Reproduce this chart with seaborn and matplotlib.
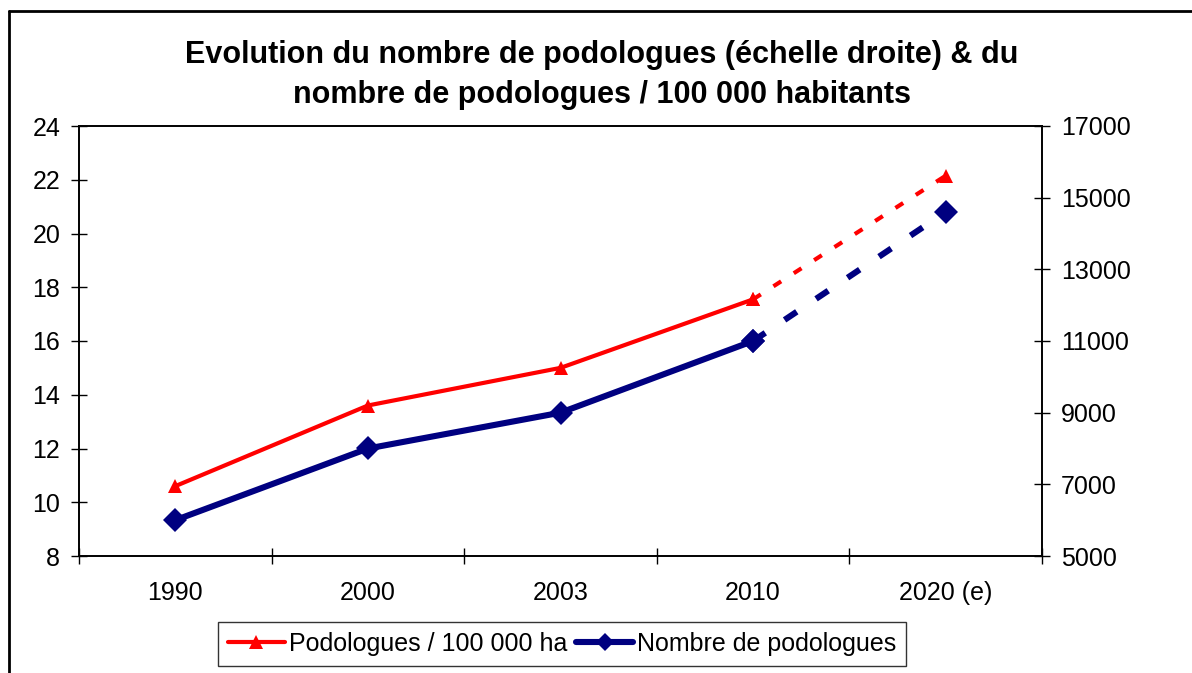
import numpy as np
import pandas as pd
import matplotlib
matplotlib.use('Agg')
import matplotlib.pyplot as plt
import seaborn as sns
from matplotlib.lines import Line2D
from matplotlib.ticker import FixedLocator

# Data
years = ["1990", "2000", "2003", "2010", "2020 (e)"]
per_100k = [10.6, 13.6, 15.0, 17.55, 22.15]          # left axis
nb_podologues = [6000, 8000, 9000, 11000, 14600]     # right axis
n_actual = 4  # last point is an estimate -> dashed segment

RED = "#FF0000"
NAVY = "#000080"

sns.set_style("white")
plt.rcParams['font.family'] = ['Liberation Sans', 'DejaVu Sans']
plt.rcParams['text.color'] = 'black'
plt.rcParams['xtick.color'] = 'black'
plt.rcParams['ytick.color'] = 'black'
plt.rcParams['axes.labelcolor'] = 'black'

pos = np.arange(len(years))
df = pd.DataFrame({"pos": pos, "ratio": per_100k, "nombre": nb_podologues})
solid = df.iloc[:n_actual]
dashed = df.iloc[n_actual - 1:]

fig = plt.figure(figsize=(11.92, 6.73), dpi=100)
ax = fig.add_axes([79 / 1192, 1 - 556 / 673, (1042 - 79) / 1192, (556 - 126) / 673])
ax2 = ax.twinx()

dash = (0, (2.2, 3.6))
red_kw = dict(color=RED, linewidth=3, marker='^', markersize=10,
              markeredgecolor=RED, markeredgewidth=0)
navy_kw = dict(color=NAVY, linewidth=4.4, marker='D', markersize=12.5,
               markeredgecolor=NAVY, markeredgewidth=0)

sns.lineplot(data=solid, x="pos", y="ratio", ax=ax, **red_kw)
sns.lineplot(data=dashed, x="pos", y="ratio", ax=ax, linestyle=dash,
             dash_capstyle='butt', **red_kw)
sns.lineplot(data=solid, x="pos", y="nombre", ax=ax2, **navy_kw)
sns.lineplot(data=dashed, x="pos", y="nombre", ax=ax2, linestyle=(0, (2.4, 3.8)),
             dash_capstyle='butt', **navy_kw)

ax.set_xlim(-0.5, len(years) - 0.5)
ax.set_ylim(8, 24)
ax.set_yticks(np.arange(8, 25, 2))
ax2.set_ylim(5000, 17000)
ax2.set_yticks(np.arange(5000, 17001, 2000))

ax.set_xticks(pos)
ax.set_xticklabels(years)
ax.xaxis.set_minor_locator(FixedLocator(np.arange(-0.5, len(years), 1.0)))
ax.tick_params(axis='x', which='major', length=0, pad=18, labelsize=18)
ax.tick_params(axis='x', which='minor', length=11, width=1, direction='inout',
               color='black', bottom=True)
ax.tick_params(axis='y', length=11, width=1, direction='inout', color='black',
               pad=8, labelsize=18, left=True)
ax2.tick_params(axis='y', length=11, width=1, direction='inout', color='black',
                pad=8, labelsize=18, right=True)

for a in (ax, ax2):
    a.set_xlabel("")
    a.set_ylabel("")
    a.grid(False)
    for s in a.spines.values():
        s.set_visible(True)
        s.set_color('black')
        s.set_linewidth(1.2)
ax.set_zorder(ax2.get_zorder() + 1)
ax.patch.set_visible(False)

fig.text(0.505, 1 - 75 / 673, "Evolution du nombre de podologues (échelle droite) & du\n"
         "nombre de podologues / 100 000 habitants",
         ha='center', va='center', fontsize=22, fontweight='bold', linespacing=1.42)

handles = [
    Line2D([], [], color=RED, linewidth=3, marker='^', markersize=10, markeredgewidth=0),
    Line2D([], [], color=NAVY, linewidth=4.4, marker='D', markersize=9.5, markeredgewidth=0),
]
leg = fig.legend(handles, ["Podologues / 100 000 ha", "Nombre de podologues"],
                 loc='center', bbox_to_anchor=(562 / 1192, 1 - 644 / 673), ncol=2,
                 fontsize=18, frameon=True, fancybox=False, shadow=False,
                 handlelength=2.3, handletextpad=0.15, columnspacing=0.35,
                 borderpad=0.4, borderaxespad=0)
leg.get_frame().set_edgecolor('black')
leg.get_frame().set_linewidth(1)

# outer chart frame (extends past right and bottom edges)
fig.add_artist(Line2D([9 / 1192, 1.0], [1 - 11 / 673, 1 - 11 / 673], color='black',
                      linewidth=2, transform=fig.transFigure))
fig.add_artist(Line2D([9 / 1192, 9 / 1192], [0, 1 - 11 / 673], color='black',
                      linewidth=2, transform=fig.transFigure))

fig.savefig("out.png", dpi=100)
